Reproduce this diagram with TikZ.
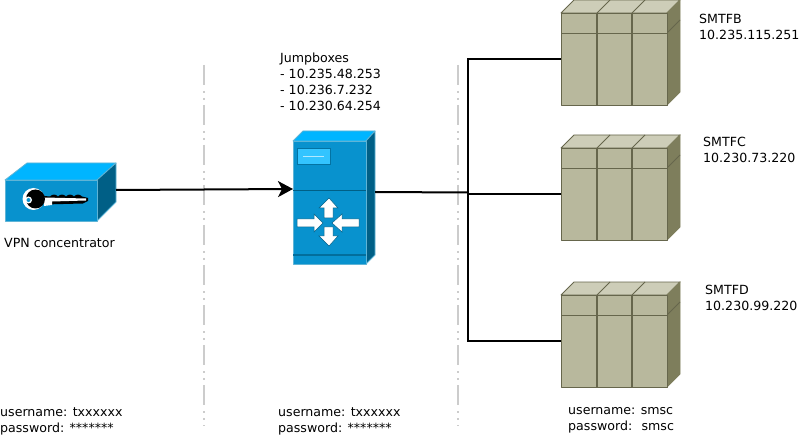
\documentclass[tikz,border=0pt]{standalone}
\usepackage{fontspec}
\setmainfont{DejaVu Sans}
\usetikzlibrary{arrows.meta}
\definecolor{vpnfront}{HTML}{0892CE}
\definecolor{vpntop}{HTML}{00B5FF}
\definecolor{vpnside}{HTML}{005F86}
\definecolor{vpnedge}{HTML}{5FB4D6}
\definecolor{srvfront}{HTML}{B8B89D}
\definecolor{srvtop}{HTML}{CDCDB8}
\definecolor{srvside}{HTML}{7E7E5C}
\definecolor{srvline}{HTML}{66664C}
\definecolor{sepgrey}{HTML}{CCCCCC}
\tikzset{
    label text/.style={anchor=north west, inner sep=0pt, align=left,
        font=\fontsize{12.6}{16}\selectfont},
    box part/.style={draw=vpnedge, line width=0.8pt, line join=round},
    white arrow/.style={fill=white, draw=vpnside, line width=0.5pt, line join=miter},
    server part/.style={draw=srvline, line width=0.8pt, line join=round},
    server rule/.style={draw=srvline, line width=1.3pt},
    separator/.style={draw=sepgrey, line width=2pt,
        dash pattern=on 20pt off 6pt on 2pt off 5pt on 2pt off 5pt},
    link/.style={draw=black, line width=2pt},
}
\begin{document}
\begin{tikzpicture}[x=1pt, y=-1pt]
    \useasboundingbox (0,0) rectangle (799,435);

    % separators
    \coordinate (septopa) at (204,65);
    \coordinate (sepbota) at (204,426);
    \coordinate (septopb) at (458,65);
    \coordinate (sepbotb) at (458,426);
    \draw[separator] (septopa) -- (sepbota);
    \draw[separator] (septopb) -- (sepbotb);

    % VPN concentrator
    \fill[vpntop, box part] (5,180) -- (27,163) -- (116,163) -- (97,180) -- cycle;
    \fill[vpnside, box part] (97,180) -- (116,163) -- (116,202) -- (97,221) -- cycle;
    \node[box part, fill=vpnfront, minimum width=92pt, minimum height=41pt,
        inner sep=0pt, anchor=north west] (vpn) at (5,180) {};
    % key
    \fill[black] (44,196) -- (50,196.5)
        .. controls (52,194) and (56,194) .. (58,196.5)
        .. controls (60,194) and (64,194) .. (66,196.5)
        .. controls (68,194) and (72,194) .. (74,196.5)
        .. controls (76,194) and (80,194) .. (82,196.5)
        -- (88,198) -- (88,201) -- (83,203.5) -- (44,204.5) -- cycle;
    \fill[white] (44,197.5) -- (86,198.5) -- (86,200.5) -- (52,201.5) -- (52,205) -- (44,206) -- cycle;
    \fill[white] (33.5,199) circle (11);
    \fill[black] (35.5,199) circle (9.5);
    \fill[white] (28.5,200) circle (3.5);
    \fill[vpnfront] (28.5,200) circle (2);

    % jumpbox
    \fill[vpntop, box part] (293,141) -- (303,131) -- (375,131) -- (366,141) -- cycle;
    \fill[vpnside, box part] (366,141) -- (375,131) -- (375,255) -- (366,264) -- cycle;
    \node[box part, fill=vpnfront, minimum width=73pt, minimum height=123pt,
        inner sep=0pt, anchor=north west] (jumpbox) at (293,141) {};
    \draw[vpnside, line width=0.8pt] (293,190) -- (366,190);
    \fill[vpnside!70!vpnfront] (293,254) rectangle (366,256);
    \node[draw=vpnside!60!vpnfront, line width=0.8pt, fill=vpntop!80!white, minimum width=33pt,
        minimum height=16pt, inner sep=0pt, anchor=north west] (panel) at (297,148) {};
    \draw[white!70!vpntop, line width=0.8pt] (303,156) -- (324,156);
    \draw[white arrow] (329,198) -- (338,208) -- (333,208) -- (333,218)
        -- (324,218) -- (324,208) -- (319,208) -- cycle;
    \draw[white arrow] (329,246) -- (338,236) -- (333,236) -- (333,227)
        -- (324,227) -- (324,236) -- (319,236) -- cycle;
    \draw[white arrow] (323,223) -- (314,214) -- (314,219) -- (297,219)
        -- (297,227) -- (314,227) -- (314,232) -- cycle;
    \draw[white arrow] (332,223) -- (342,214) -- (342,219) -- (359,219)
        -- (359,227) -- (342,227) -- (342,232) -- cycle;

    % servers
    \foreach \yy/\nam in {0/b,135/c,282/d}{
        \fill[srvtop, server part] (561,\yy+13) -- (574,\yy) -- (680,\yy) -- (667,\yy+13) -- cycle;
        \draw[server part] (597,\yy+13) -- (610,\yy);
        \draw[server part] (632,\yy+13) -- (645,\yy);
        \fill[srvside, draw=srvside, line width=0.8pt] (667,\yy+13) -- (680,\yy) -- (680,\yy+92) -- (667,\yy+105) -- cycle;
        \draw[server part] (667,\yy+33) -- (680,\yy+20);
        \node[server part, fill=srvfront, minimum width=106pt, minimum height=92pt,
            inner sep=0pt, anchor=north west] (server\nam) at (561,\yy+13) {};
        \draw[server rule] (561,\yy+33.5) -- (667,\yy+33.5);
        \draw[server rule] (597,\yy+13) -- (597,\yy+105);
        \draw[server rule] (632,\yy+13) -- (632,\yy+105);
    }

    % connectors
    \coordinate (vpnout) at (116,190);
    \coordinate (jumpin) at (293,189);
    \coordinate (jumpout) at (375,192);
    \coordinate (bus) at (468,192.5);
    \draw[link, -{Stealth[length=15pt,width=16pt,inset=4pt]}] (vpnout) -- (jumpin);
    \draw[link] (jumpout) -- (bus);
    \draw[link] (bus) |- (serverb.west);
    \draw[link] (bus) |- (serverc.west);
    \draw[link] (bus) |- (serverd.west);

    % labels
    \node[label text] (vpnname) at (4,238) {VPN concentrator};
    \node[label text] (jumpname) at (280,52.5) {Jumpboxes\\- 10.235.48.253\\- 10.236.7.232\\- 10.230.64.254};
    \node[label text] (smtfb) at (699,14) {SMTFB\\10.235.115.251};
    \node[label text] (smtfc) at (703,137) {SMTFC\\10.230.73.220};
    \node[label text] (smtfd) at (705,285) {SMTFD\\10.230.99.220};
    \node[label text] (logina) at (0,407) {username: txxxxxx\\password: *******};
    \node[label text] (loginb) at (278,407) {username: txxxxxx\\password: *******};
    \node[label text] (loginc) at (568,407) {username: smsc\\password: \ smsc};
\end{tikzpicture}
\end{document}
